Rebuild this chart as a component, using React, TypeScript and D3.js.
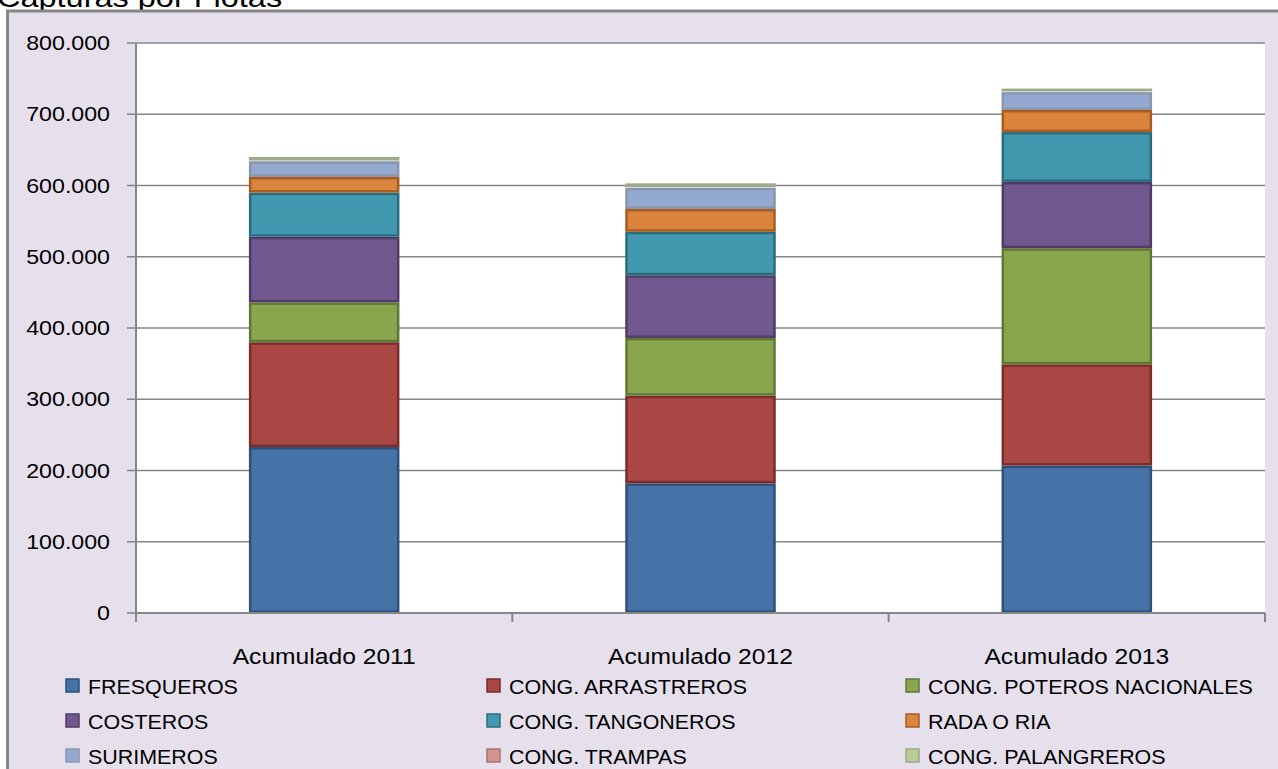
import React from 'react';
import * as d3 from 'd3';

const categories = ['Acumulado 2011', 'Acumulado 2012', 'Acumulado 2013'];

const seriesNames = [
  'FRESQUEROS',
  'CONG. ARRASTREROS',
  'CONG. POTEROS NACIONALES',
  'COSTEROS',
  'CONG. TANGONEROS',
  'RADA O RIA',
  'SURIMEROS',
  'CONG. TRAMPAS',
  'CONG. PALANGREROS',
];

// values per series, in category order (2011, 2012, 2013)
const fresqueros = [233000, 182000, 207000];
const arrastreros = [147000, 123000, 142000];
const poteros = [56000, 81000, 163000];
const costeros = [92000, 88000, 93000];
const tangoneros = [62000, 61000, 70000];
const radaRia = [22000, 32000, 31000];
const surimeros = [22000, 30000, 25000];
const trampas = [1000, 1000, 1000];
const palangreros = [5000, 5000, 4000];

const yTicks = [0, 100000, 200000, 300000, 400000, 500000, 600000, 700000, 800000];

const fills = ['#4572A7', '#AA4643', '#89A54E', '#71588F', '#4198AF', '#DB843D', '#93A9CF', '#D19392', '#B9CD96'];
const strokes = ['#2E5079', '#7A2E2C', '#617834', '#4F3D66', '#2A6C7E', '#A85C22', '#8A96AE', '#A87473', '#9CA98B'];

const App: React.FC = () => {
  const width = 1278;
  const height = 769;
  const plot = { left: 136, right: 1265, top: 43, bottom: 613 };

  const allSeries = [fresqueros, arrastreros, poteros, costeros, tangoneros, radaRia, surimeros, trampas, palangreros];

  const x = d3.scaleBand().domain(categories).range([plot.left, plot.right]).paddingInner(0).paddingOuter(0);
  const y = d3.scaleLinear().domain([0, 800000]).range([plot.bottom, plot.top]);

  const rows = categories.map((c, i) => {
    const r: Record<string, number | string> = { cat: c };
    seriesNames.forEach((s, k) => (r[s] = allSeries[k][i]));
    return r;
  });
  const stacked = d3.stack<Record<string, number | string>>().keys(seriesNames)(rows as any);

  const barW = x.bandwidth() * 0.4;
  const fmt = (v: number) => (v === 0 ? '0' : d3.format(',')(v).replace(/,/g, '.'));
  const sx = 1.16;
  const font = 'Liberation Sans, Arial, sans-serif';

  const legendCols = [66, 487, 906];
  const legendRows = [686, 721, 756];

  return (
    <svg width={width} height={height} style={{ position: 'absolute', left: 0, top: 0 }}>
      <rect x={0} y={0} width={width} height={height} fill="#ffffff" />
      <g transform="translate(-3,7) scale(1.16,1)">
        <text x={0} y={0} fontFamily={font} fontSize={28} fill="#000">
          Capturas por Flotas
        </text>
      </g>
      <rect x={7.5} y={11} width={width + 20} height={height + 20} fill="#E5E0EC" stroke="#868686" strokeWidth={3} />
      <rect x={plot.left} y={plot.top} width={plot.right - plot.left} height={plot.bottom - plot.top} fill="#ffffff" />

      {yTicks.map(t => (
        <g key={t}>
          <line x1={127} x2={plot.right} y1={y(t)} y2={y(t)} stroke="#868686" strokeWidth={1.5} />
          <g transform={`translate(${110},${y(t) + 7})`}>
            <text transform={`scale(${sx},1)`} textAnchor="end" fontFamily={font} fontSize={20} fill="#000">
              {fmt(t)}
            </text>
          </g>
        </g>
      ))}

      {stacked.map((layer, k) =>
        layer.map((d, i) => {
          const x0 = (x(categories[i]) as number) + (x.bandwidth() - barW) / 2;
          const top = y(d[1]);
          const h = y(d[0]) - y(d[1]);
          if (h <= 0) return null;
          const inset = Math.min(1.25, h / 2);
          return (
            <rect
              key={`${k}-${i}`}
              x={x0 + inset}
              y={top + inset}
              width={barW - 2 * inset}
              height={Math.max(0, h - 2 * inset)}
              fill={fills[k]}
              stroke={strokes[k]}
              strokeWidth={Math.min(2.5, h)}
            />
          );
        })
      )}

      <line x1={plot.left} x2={plot.left} y1={plot.top} y2={plot.bottom} stroke="#868686" strokeWidth={2} />
      <line x1={plot.left} x2={plot.right} y1={plot.bottom} y2={plot.bottom} stroke="#868686" strokeWidth={2} />
      {[plot.left, ...categories.map(c => (x(c) as number) + x.bandwidth())].map((bx, i) => (
        <line key={i} x1={bx} x2={bx} y1={plot.bottom} y2={plot.bottom + 9} stroke="#868686" strokeWidth={2} />
      ))}

      {categories.map(c => (
        <g key={c} transform={`translate(${(x(c) as number) + x.bandwidth() / 2},664)`}>
          <text transform="scale(1.12,1)" textAnchor="middle" fontFamily={font} fontSize={22} fill="#000">
            {c}
          </text>
        </g>
      ))}

      {seriesNames.map((s, k) => {
        const lx = legendCols[k % 3];
        const ly = legendRows[Math.floor(k / 3)];
        return (
          <g key={s}>
            <rect x={lx} y={ly - 7} width={13} height={13} fill={fills[k]} stroke={strokes[k]} strokeWidth={1.5} />
            <g transform={`translate(${lx + 22},${ly + 7.5})`}>
              <text transform="scale(1.02,1)" fontFamily={font} fontSize={21} fill="#000">
                {s}
              </text>
            </g>
          </g>
        );
      })}
    </svg>
  );
};

export default App;
